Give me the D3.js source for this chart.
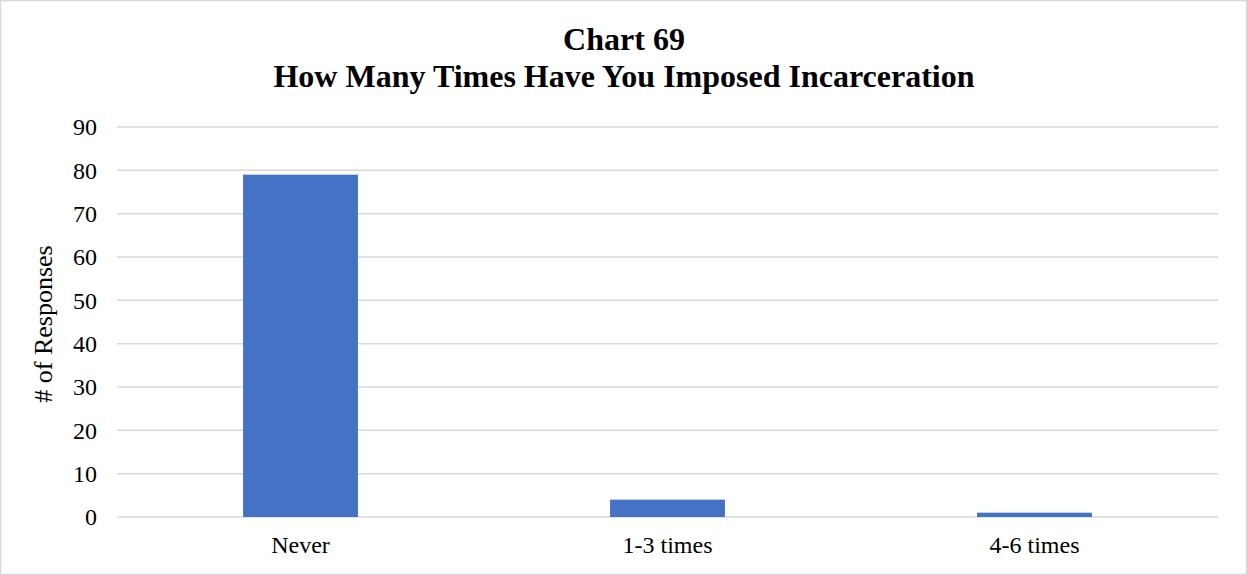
<!DOCTYPE html>
<html>
<head>
<meta charset="utf-8">
<script src="https://cdn.jsdelivr.net/npm/d3@7"></script>
<style>
  html, body { margin: 0; padding: 0; background: #fff; }
  svg { display: block; }
</style>
</head>
<body>
<svg id="chart" width="1247" height="575"></svg>
<script>
const categories = ["Never", "1-3 times", "4-6 times"];
const responses = [79, 4, 1];
const yTicks = [0, 10, 20, 30, 40, 50, 60, 70, 80, 90];
const titleLines = ["Chart 69", "How Many Times Have You Imposed Incarceration"];
const yAxisTitle = "# of Responses";

const W = 1247, H = 575;
const margin = { top: 127, right: 29, bottom: 58, left: 117 };
const font = "'Liberation Serif', 'Times New Roman', serif";

const svg = d3.select("#chart");

// chart frame
svg.append("rect")
  .attr("x", 0.5).attr("y", 0.5)
  .attr("width", W - 1).attr("height", H - 1)
  .attr("fill", "#fff")
  .attr("stroke", "#d9d9d9").attr("stroke-width", 1.5);

const x = d3.scaleBand()
  .domain(categories)
  .range([margin.left, W - margin.right])
  .paddingInner(0.687).paddingOuter(0.3435);

const y = d3.scaleLinear()
  .domain([0, 90])
  .range([H - margin.bottom, margin.top]);

// horizontal gridlines
svg.append("g")
  .selectAll("line")
  .data(yTicks)
  .join("line")
  .attr("x1", margin.left).attr("x2", W - margin.right)
  .attr("y1", d => y(d)).attr("y2", d => y(d))
  .attr("stroke", "#d9d9d9").attr("stroke-width", 1.5);

// y tick labels
const yAxis = d3.axisLeft(y).tickValues(yTicks).tickSize(0).tickPadding(0);
const gy = svg.append("g")
  .attr("transform", `translate(${margin.left - 20},0)`)
  .call(yAxis);
gy.select(".domain").remove();
gy.selectAll("text")
  .attr("font-family", font).attr("font-size", 24).attr("fill", "#000")
  .attr("dy", "0.33em");

// bars
svg.append("g")
  .selectAll("rect")
  .data(responses)
  .join("rect")
  .attr("x", (d, i) => x(categories[i]))
  .attr("width", x.bandwidth())
  .attr("y", d => y(d))
  .attr("height", d => y(0) - y(d))
  .attr("fill", "#4472C4");

// x category labels
const xAxis = d3.axisBottom(x).tickSize(0).tickPadding(0);
const gx = svg.append("g")
  .attr("transform", `translate(0,${y(0) + 36})`)
  .call(xAxis);
gx.select(".domain").remove();
gx.selectAll("text")
  .attr("font-family", font).attr("font-size", 24).attr("fill", "#000")
  .attr("dy", 0);

// y axis title
svg.append("text")
  .attr("transform", `translate(52,${(y(0) + y(90)) / 2 + 2}) rotate(-90)`)
  .attr("text-anchor", "middle")
  .attr("font-family", font).attr("font-size", 26).attr("fill", "#000")
  .text(yAxisTitle);

// title
svg.append("g")
  .selectAll("text")
  .data(titleLines)
  .join("text")
  .attr("x", 624)
  .attr("y", (d, i) => 50 + i * 37)
  .attr("text-anchor", "middle")
  .attr("font-family", font).attr("font-size", 32).attr("font-weight", "bold")
  .attr("fill", "#000")
  .text(d => d);
</script>
</body>
</html>
